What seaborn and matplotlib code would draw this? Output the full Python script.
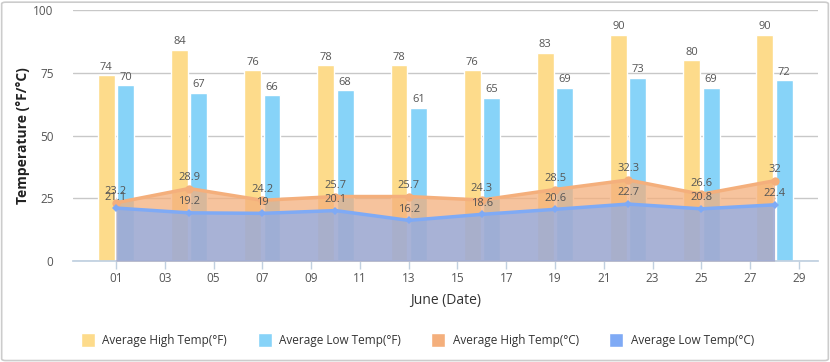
import numpy as np
import pandas as pd
import matplotlib
matplotlib.use("Agg")
import matplotlib.pyplot as plt
from matplotlib.patches import FancyBboxPatch
from matplotlib.lines import Line2D
import seaborn as sns

# --- data ---
days = [1, 4, 7, 10, 13, 16, 19, 22, 25, 28]
high_f = [74, 84, 76, 78, 78, 76, 83, 90, 80, 90]
low_f = [70, 67, 66, 68, 61, 65, 69, 73, 69, 72]
high_c = [23.2, 28.9, 24.2, 25.7, 25.7, 24.3, 28.5, 32.3, 26.6, 32]
low_c = [21.1, 19.2, 19, 20.1, 16.2, 18.6, 20.6, 22.7, 20.8, 22.4]
x_ticks = list(range(1, 30, 2))
y_ticks = [0, 25, 50, 75, 100]

names = ["Average High Temp(°F)", "Average Low Temp(°F)",
         "Average High Temp(°C)", "Average Low Temp(°C)"]
colors = ["#FDDB8B", "#87D3F8", "#F4AF7C", "#7FAAF5"]

sns.set_theme(style="white")
plt.rcParams["font.family"] = ["Open Sans", "DejaVu Sans"]

fig = plt.figure(figsize=(8.3, 3.62), dpi=100)
ax = fig.add_axes([0.088, 0.279, 0.8975, 0.693])

bars = pd.DataFrame({
    "day": days * 2,
    "temp": high_f + low_f,
    "series": [names[0]] * len(days) + [names[1]] * len(days),
})
sns.barplot(data=bars, x="day", y="temp", hue="series", native_scale=True,
            palette=colors[:2], width=0.53, gap=0.13, legend=False,
            saturation=1, ax=ax, zorder=2)

for cont in ax.containers:
    ax.bar_label(cont, fmt="%g", padding=2, fontsize=8, color="#555555")

# area series for celsius values
ax.fill_between(days, high_c, 0, color=colors[2], alpha=0.75, lw=0, zorder=3)
ax.fill_between(days, low_c, 0, color=colors[3], alpha=0.65, lw=0, zorder=4)
sns.lineplot(x=days, y=high_c, color=colors[2], lw=2.5, marker="o",
             markersize=6, markeredgewidth=0, ax=ax, zorder=5)
sns.lineplot(x=days, y=low_c, color=colors[3], lw=2.5, marker="D",
             markersize=4.5, markeredgewidth=0, ax=ax, zorder=6)
for d, v in zip(days, high_c):
    ax.annotate(f"{v:g}", (d, v), xytext=(0, 4), textcoords="offset points",
                ha="center", va="bottom", fontsize=8, color="#555555", zorder=7)
for d, v in zip(days, low_c):
    ax.annotate(f"{v:g}", (d, v), xytext=(0, 4), textcoords="offset points",
                ha="center", va="bottom", fontsize=8, color="#555555", zorder=7)

ax.set_xlim(-0.76, 29.78)
ax.set_ylim(0, 100)
ax.set_xticks(x_ticks)
ax.set_xticklabels([f"{t:02d}" for t in x_ticks])
ax.set_yticks(y_ticks)
ax.yaxis.grid(True, color="#C8C8C8", lw=1)
ax.set_axisbelow(True)
for s in ["top", "right", "left"]:
    ax.spines[s].set_visible(False)
ax.spines["bottom"].set_color("#C0D0E0")
ax.tick_params(axis="x", length=6, width=1, color="#C0D0E0", colors="#555555",
               labelsize=8.5, pad=2, bottom=True)
ax.tick_params(axis="y", length=0, colors="#555555", labelsize=8.5, pad=14)
ax.set_xlabel("June (Date)", fontsize=10, color="#333333", labelpad=6)
ax.set_ylabel("Temperature (°F/°C)", fontsize=10, fontweight="bold",
              color="#222222", labelpad=2)

handles = [Line2D([0], [0], marker="s", color="w", markerfacecolor=c,
                  markersize=10, lw=0) for c in colors]
fig.legend(handles, names, loc="center", bbox_to_anchor=(0.5, 0.06), ncol=4,
           frameon=False, fontsize=8.5, handletextpad=0.2, columnspacing=2.2,
           labelcolor="#333333")

fig.patches.append(FancyBboxPatch((0.002, 0.004), 0.996, 0.99,
                                  boxstyle="round,pad=0,rounding_size=0.005",
                                  transform=fig.transFigure, fill=False,
                                  edgecolor="#CCCCCC", lw=1.2))

fig.savefig("out.png", dpi=100)
